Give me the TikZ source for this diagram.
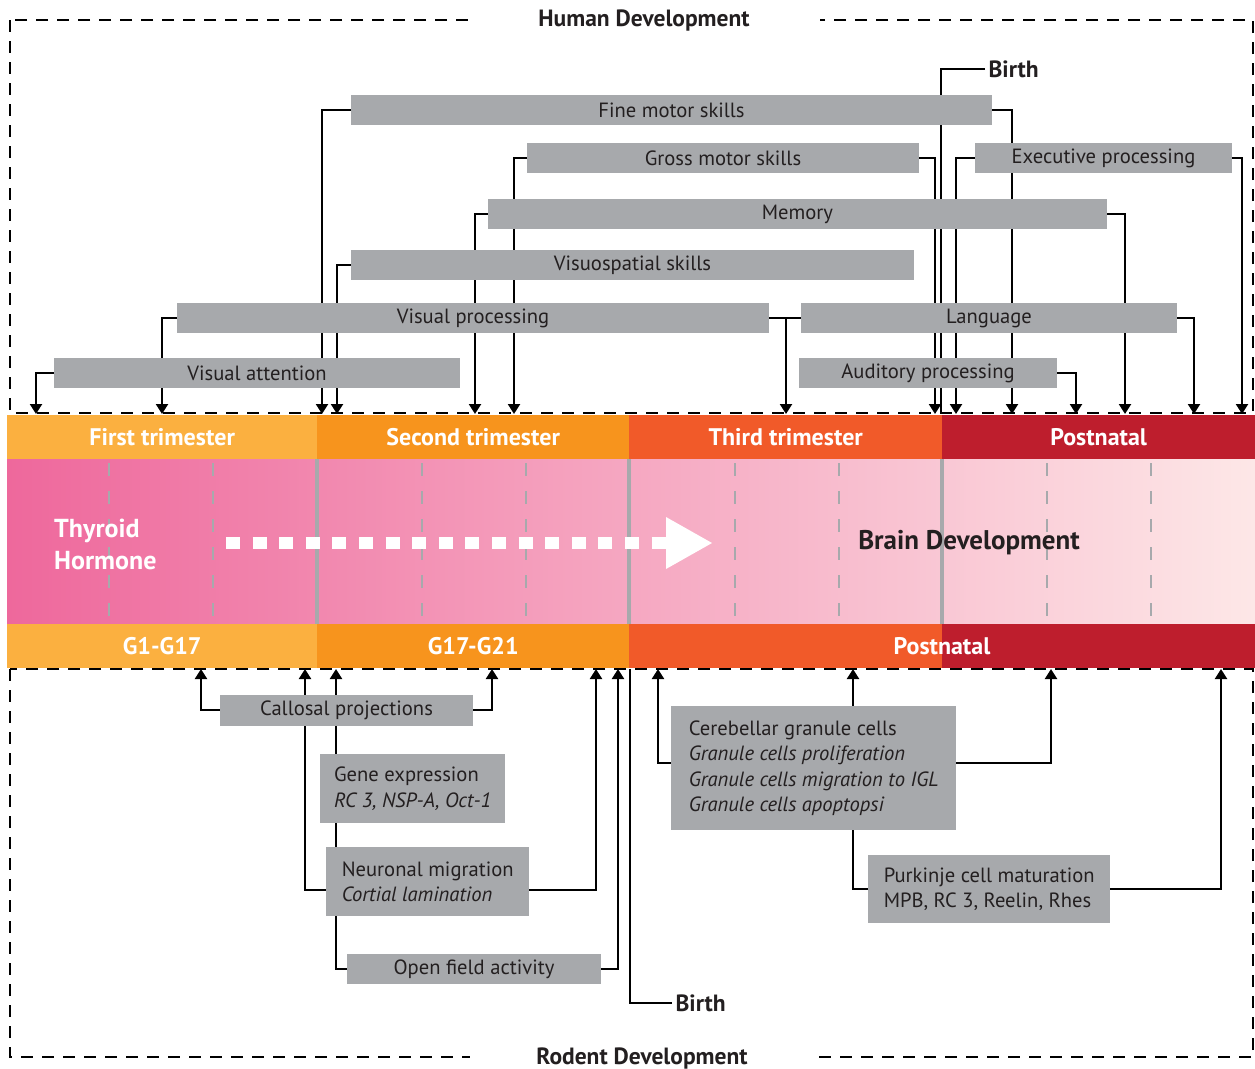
\documentclass[tikz,border=0pt]{standalone}
\usepackage{fontspec}
\setmainfont{PT Sans}
\usetikzlibrary{arrows.meta,backgrounds}
\definecolor{boxgray}{HTML}{A7A9AC}
\definecolor{ink}{HTML}{231F20}
\definecolor{triA}{HTML}{FBB040}
\definecolor{triB}{HTML}{F7941D}
\definecolor{triC}{HTML}{F15A29}
\definecolor{triD}{HTML}{BE1E2D}
\definecolor{pinkL}{HTML}{EE689C}
\definecolor{pinkR}{HTML}{FDE7E7}
\tikzset{
  box/.style={fill=boxgray, text=ink, inner sep=0pt, minimum height=30pt,
    font=\fontsize{20.6}{25.5}\selectfont},
  note/.style={box, align=left},
  band/.style={inner sep=0pt, minimum height=44pt, text=white,
    font=\bfseries\fontsize{24}{28}\selectfont},
  heading/.style={text=ink, font=\bfseries\fontsize{23.5}{28}\selectfont},
  conn/.style={draw=black, line width=2.2pt},
  arr/.style={conn, -{Triangle[width=12pt,length=10pt]}},
  devframe/.style={line width=2pt, dash pattern=on 12pt off 9pt},
  divider/.style={draw=boxgray, line width=3.5pt},
  tick/.style={draw=boxgray, line width=2pt, dash pattern=on 13pt off 15pt}
}
\begin{document}
\begin{tikzpicture}[x=1pt,y=-1pt]
\useasboundingbox (0,0) rectangle (1255,1068);
\coordinate (htop) at (0,414);
\coordinate (rbot) at (0,669);

% time bar
\node[band, fill=triA, minimum width=310pt, anchor=north west] (first) at (7,415) {First trimester};
\node[band, fill=triB, minimum width=312pt, anchor=north west] (second) at (317,415) {Second trimester};
\node[band, fill=triC, minimum width=313pt, anchor=north west] (third) at (629,415) {Third trimester};
\node[band, fill=triD, minimum width=313pt, anchor=north west] (hpost) at (942,415) {Postnatal};
\shade[left color=pinkL, right color=pinkR] (7,459) rectangle (1255,624);
\foreach \x in {317,629,942}
  \draw[divider] (\x,459) -- (\x,624);
\foreach \x in {109,213,422,526,735,839,1047,1151}
  \draw[tick] (\x,463) -- (\x,620);
\node[band, fill=triA, minimum width=310pt, anchor=north west] (gA) at (7,624) {G1-G17};
\node[band, fill=triB, minimum width=312pt, anchor=north west] (gB) at (317,624) {G17-G21};
\fill[triC] (629,624) rectangle (942,668);
\fill[triD] (942,624) rectangle (1255,668);
\node[band] (rpost) at (942,646) {Postnatal};

\node[band, align=left, anchor=west, font=\bfseries\fontsize{26}{32}\selectfont] (thyroid) at (54,544) {Thyroid\\Hormone};
\draw[white, line width=12pt, dash pattern=on 14pt off 12.6pt] (226,543) -- (666,543);
\fill[white] (666,517) -- (712,543) -- (666,569) -- cycle;
\node[heading, font=\bfseries\fontsize{27}{30}\selectfont] (brain) at (969,543) {Brain Development};

% frames
\draw[devframe] (10,20) rectangle (1253,413);
\draw[devframe] (10,669) rectangle (1253,1057);
\node[heading, fill=white, minimum width=352pt, inner ysep=6pt] (human) at (644,21) {Human Development};
\node[heading, fill=white, minimum width=345pt, inner ysep=6pt] (rodent) at (642,1058) {Rodent Development};

% human
\node[box, minimum width=641pt] (fine) at (671.5,110) {Fine motor skills};
\node[box, minimum width=392pt] (gross) at (723,158) {Gross motor skills};
\node[box, minimum width=257pt] (exec) at (1103.5,158) {Executive processing};
\node[box, minimum width=619pt] (memory) at (797.5,214) {Memory};
\node[box, minimum width=563pt] (visuo) at (632.5,265) {Visuospatial skills};
\node[box, minimum width=592pt] (vproc) at (473,318) {Visual processing};
\node[box, minimum width=376pt] (lang) at (989,318) {Language};
\node[box, minimum width=406pt] (vatt) at (257,373) {Visual attention};
\node[box, minimum width=258pt] (audit) at (928,373) {Auditory processing};
\node[heading, anchor=west] (hbirth) at (985,69) {Birth};

% rodent
\node[box, minimum width=253pt, minimum height=31pt] (call) at (346.5,710) {Callosal projections};
\node[note, minimum width=185pt, minimum height=69pt, anchor=north west] (gene) at (320,754) {Gene expression\\\textit{RC 3, NSP-A, Oct-1}};
\node[note, minimum width=203pt, minimum height=69pt, anchor=north west] (neur) at (326,847) {Neuronal migration\\\textit{Cortial lamination}};
\node[box, minimum width=254pt] (open) at (474,969) {Open field activity};
\node[note, minimum width=285pt, minimum height=124pt, anchor=north west] (cereb) at (671,706) {Cerebellar granule cells\\\textit{Granule cells proliferation}\\\textit{Granule cells migration to IGL}\\\textit{Granule cells apoptopsi}};
\node[note, minimum width=242pt, minimum height=68pt, anchor=north west] (purk) at (868,855) {Purkinje cell maturation\\MPB, RC 3, Reelin, Rhes};
\node[heading, anchor=west] (rbirth) at (672,1003) {Birth};

\begin{scope}[on background layer]
\draw[conn] (hbirth.west) -| (941,0 |- htop);
\draw[arr] (vatt.west) -| (36,0 |- htop);
\draw[arr] (vproc.west) -| (162,0 |- htop);
\draw[arr] (vproc.east) -| (786,0 |- htop);
\draw[conn] (lang.west) -- (vproc.east);
\draw[arr] (fine.west) -| (322,0 |- htop);
\draw[arr] (fine.east) -| (1012,0 |- htop);
\draw[arr] (gross.west) -| (514,0 |- htop);
\draw[arr] (gross.east) -| (935,0 |- htop);
\draw[arr] (exec.west) -| (956,0 |- htop);
\draw[arr] (exec.east) -| (1242,0 |- htop);
\draw[arr] (memory.west) -| (475,0 |- htop);
\draw[arr] (memory.east) -| (1125,0 |- htop);
\draw[arr] (visuo.west) -| (337,0 |- htop);
\draw[arr] (lang.east) -| (1194,0 |- htop);
\draw[arr] (audit.east) -| (1076,0 |- htop);

\draw[arr] (call.west) -| (201,0 |- rbot);
\draw[arr] (call.east) -| (492,0 |- rbot);
\draw[arr] (neur.west |- 0,890) -| (305,0 |- rbot);
\draw[arr] (neur.east |- 0,890) -| (596,0 |- rbot);
\draw[arr] (open.west) -| (336,0 |- rbot);
\draw[arr] (open.east) -| (618,0 |- rbot);
\draw[conn] (rbirth.west) -| (630,0 |- rbot);
\draw[arr] (cereb.west |- 0,763) -| (658,0 |- rbot);
\draw[arr] (cereb.east |- 0,763) -| (1051,0 |- rbot);
\draw[arr] (purk.west) -| (853,0 |- rbot);
\draw[arr] (purk.east) -| (1221,0 |- rbot);
\end{scope}
\end{tikzpicture}
\end{document}
